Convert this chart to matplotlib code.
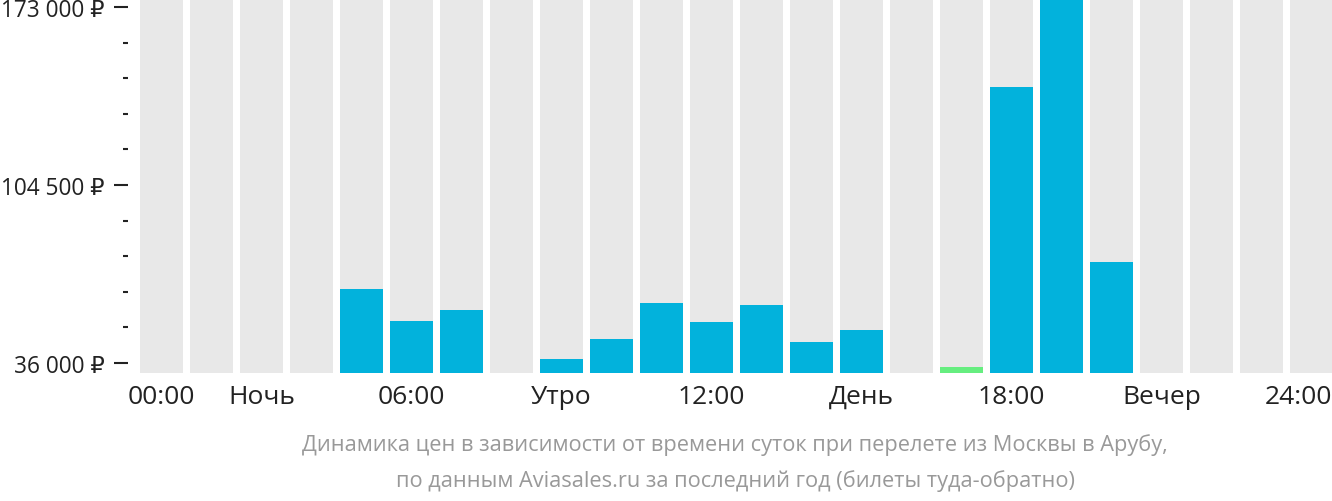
import matplotlib
matplotlib.use('Agg')
import matplotlib.pyplot as plt
import matplotlib.transforms as mtransforms
import numpy as np

plt.rcParams['font.family'] = ['Open Sans', 'DejaVu Sans']

hours = list(range(24))
# цены по часам вылета (None - нет данных)
prices = [None, None, None, None, 64500, 52200, 56400, None,
          37500, 45200, 59100, 51800, 58300, 44100, 48700, None,
          34500, 142200, 176000, 74900, None, None, None, None]
cheapest = 16
tick_pos = [0, 2, 5, 8, 11, 14, 17, 20, 23]
tick_labels = ['00:00', 'Ночь', '06:00', 'Утро', '12:00', 'День', '18:00', 'Вечер', '24:00']
y_major = [36000, 104500, 173000]
y_major_labels = ['36 000 ₽', '104 500 ₽', '173 000 ₽']

ymin = 36000 - 10 * 137000 / 356
ymax = 173000 + 8 * 137000 / 356

fig = plt.figure(figsize=(13.32, 5.02), dpi=100)
ax = fig.add_axes([140 / 1332, 1 - 374 / 502, 1192 / 1332, 374 / 502])

x = np.array(hours)
ax.bar(x, ymax - ymin, bottom=ymin, width=0.86, color='#e8e8e8', zorder=1)
for h, p in zip(hours, prices):
    if p is None:
        continue
    c = '#66ee80' if h == cheapest else '#02b2dc'
    ax.bar(h, p - ymin, bottom=ymin, width=0.86, color=c, zorder=2)

ax.set_xlim(-0.43, -0.43 + 1192 / 50)
ax.set_ylim(ymin, ymax)

for s in ['top', 'right', 'bottom']:
    ax.spines[s].set_visible(False)
ax.spines['left'].set_position(('outward', 9))
ax.spines['left'].set_visible(False)

ax.set_yticks(y_major)
ax.set_yticklabels(y_major_labels)
ax.set_yticks(np.arange(36000, 173001, 13700), minor=True)
ax.tick_params(axis='y', which='major', length=10, width=1.5, color='#222222',
               labelsize=16.3, labelcolor='#222222', pad=6.5)
ax.tick_params(axis='y', which='minor', length=3.5, width=1.5, color='#222222')

ax.set_xticks(tick_pos)
ax.set_xticklabels(tick_labels)
ax.tick_params(axis='x', length=0, labelsize=19, labelcolor='#222222', pad=8)

# последняя подпись прижата к правому краю
last = ax.get_xticklabels()[-1]
last.set_transform(last.get_transform() +
                   mtransforms.ScaledTranslation(-13 / 100, 0, fig.dpi_scale_trans))

fig.text(735 / 1332, 1 - 445 / 502, 'Динамика цен в зависимости от времени суток при перелете из Москвы в Арубу,',
         ha='center', va='center', fontsize=15.7, color='#999999')
fig.text(735 / 1332, 1 - 481 / 502, 'по данным Aviasales.ru за последний год (билеты туда-обратно)',
         ha='center', va='center', fontsize=15.7, color='#999999')

fig.savefig('out.png', dpi=100)
